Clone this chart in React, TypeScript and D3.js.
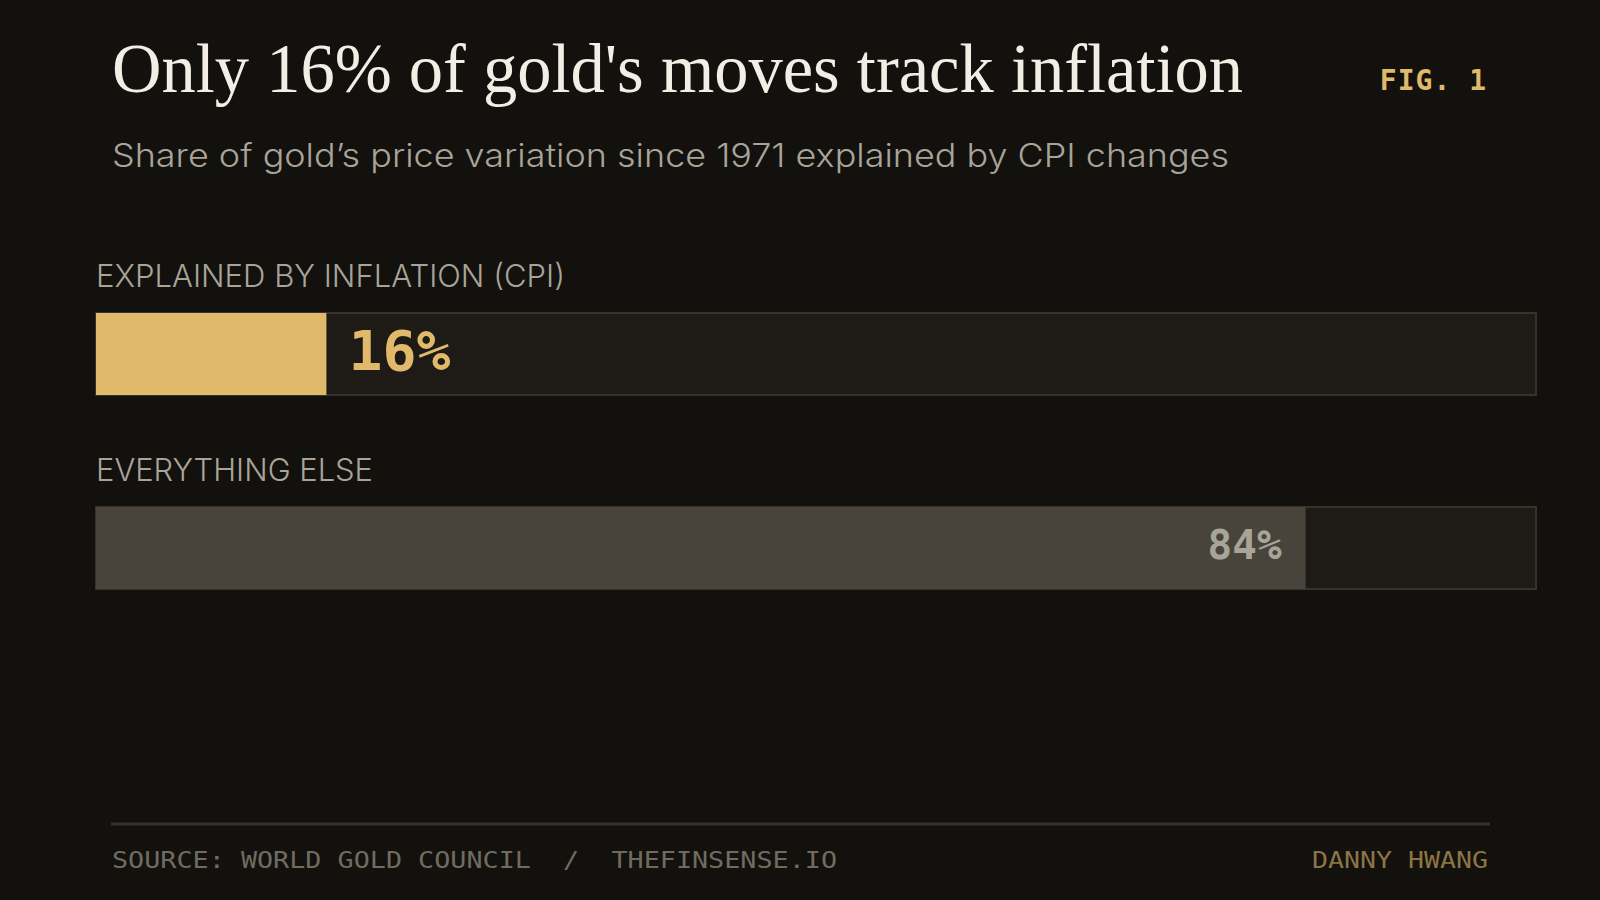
import * as d3 from "d3";
import React from "react";

// chart data
const categories = ["EXPLAINED BY INFLATION (CPI)", "EVERYTHING ELSE"];
const shares = [16, 84];
const valueLabels = ["16%", "84%"];

const title = "Only 16% of gold's moves track inflation";
const subtitle = "Share of gold\u2019s price variation since 1971 explained by CPI changes";
const figLabel = "FIG. 1";
const sourceText = "SOURCE: WORLD GOLD COUNCIL  /  THEFINSENSE.IO";
const authorText = "DANNY HWANG";

const App = () => {
  const width = 1600;
  const height = 900;

  const bg = "#12110e";
  const gold = "#e0b96a";
  const track = "#1e1b16";
  const trackStroke = "#37332c";
  const grey = "#48443c";
  const muted = "#a9a49a";

  const xScale = d3.scaleLinear().domain([0, 100]).range([96, 1536]);

  const yScale = d3
    .scaleBand()
    .domain(categories)
    .range([313, 313 + 194 * 2])
    .paddingInner(0);

  const barH = 82;
  const mono = "'DejaVu Sans Mono', 'Liberation Mono', monospace";
  const sans = "Inter, 'Noto Sans', sans-serif";

  return (
    <svg
      width={width}
      height={height}
      style={{ position: "fixed", top: 0, left: 0, background: bg }}
    >
      <rect x={0} y={0} width={width} height={height} fill={bg} />

      <text
        x={112}
        y={92}
        fill="#f2eee6"
        fontFamily="'Liberation Serif', 'DejaVu Serif', serif"
        fontSize={70}
        textLength={1131}
        lengthAdjust="spacingAndGlyphs"
      >
        {title}
      </text>

      <text
        x={1487}
        y={90}
        textAnchor="end"
        fill={gold}
        fontFamily={mono}
        fontWeight="bold"
        fontSize={28}
        letterSpacing={1}
      >
        {figLabel}
      </text>

      <text
        x={112}
        y={167}
        fill={muted}
        fontFamily={sans}
        fontWeight={300}
        fontSize={32}
        textLength={1117}
        lengthAdjust="spacingAndGlyphs"
      >
        {subtitle}
      </text>

      {categories.map((c, i) => {
        const y = yScale(c) as number;
        const x0 = xScale(0);
        const x1 = xScale(shares[i]);
        const first = i === 0;
        return (
          <g key={c}>
            <text
              x={x0}
              y={y - 26}
              fill={muted}
              fontFamily={sans}
              fontWeight={300}
              fontSize={31}
              textLength={first ? 469 : 277}
              lengthAdjust="spacingAndGlyphs"
            >
              {c}
            </text>
            <rect
              x={x0}
              y={y}
              width={xScale(100) - x0}
              height={barH}
              fill={track}
              stroke={trackStroke}
              strokeWidth={2}
            />
            <rect
              x={x0}
              y={y}
              width={x1 - x0}
              height={barH}
              fill={first ? gold : grey}
            />
            {first ? (
              <text
                x={x1 + 22}
                y={y + barH / 2 + 16}
                fill={gold}
                fontFamily={mono}
                fontWeight="bold"
                fontSize={56}
                textLength={102}
                lengthAdjust="spacingAndGlyphs"
              >
                {valueLabels[i]}
              </text>
            ) : (
              <text
                x={x1 - 24}
                y={y + barH / 2 + 11}
                textAnchor="end"
                fill={muted}
                fontFamily={mono}
                fontWeight="bold"
                fontSize={40}
                textLength={74}
                lengthAdjust="spacingAndGlyphs"
              >
                {valueLabels[i]}
              </text>
            )}
          </g>
        );
      })}

      <line x1={111} x2={1490} y1={824} y2={824} stroke={trackStroke} strokeWidth={3} />

      <text
        x={112}
        y={868}
        fill="#716b5f"
        fontFamily={mono}
        fontSize={23}
        textLength={725}
        lengthAdjust="spacingAndGlyphs"
        style={{ whiteSpace: "pre" }}
      >
        {sourceText}
      </text>
      <text
        x={1488}
        y={868}
        textAnchor="end"
        fill="#8c7543"
        fontFamily={mono}
        fontSize={23}
        textLength={176}
        lengthAdjust="spacingAndGlyphs"
      >
        {authorText}
      </text>
    </svg>
  );
};

export default App;
